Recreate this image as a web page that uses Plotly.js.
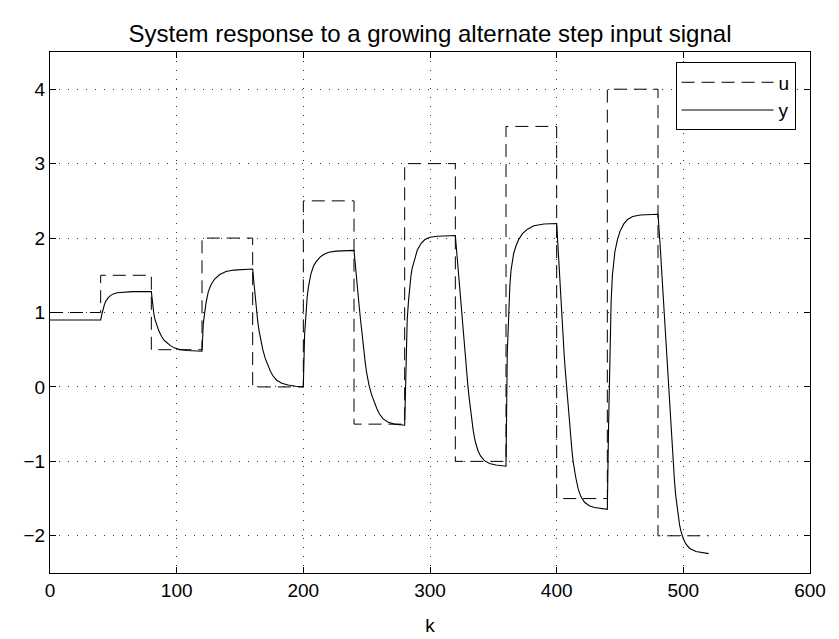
<!DOCTYPE html>
<html>
<head>
<meta charset="utf-8">
<script src="https://cdn.plot.ly/plotly-3.0.1.min.js"></script>
<style>html,body{margin:0;padding:0;background:#fff;}#chart{width:839px;height:639px;}</style>
</head>
<body>
<div id="chart"></div>
<script>
// Input signal u: step changes every 40 samples (hv steps)
const uK   = [0, 40, 80, 120, 160, 200, 240, 280, 320, 360, 400, 440, 480, 520];
const uVal = [1, 1.5, 0.5, 2, 0, 2.5, -0.5, 3, -1, 3.5, -1.5, 4, -2, -2];

// System output y
const yK = [
  0, 40,
  41, 42, 43, 44, 46, 48, 50, 53, 58, 65, 80,
  81, 82, 83, 84, 85, 86, 88, 90, 92, 95, 98, 102, 108, 120,
  121, 122, 123, 124, 125, 127, 130, 134, 139, 145, 150, 160,
  161, 162, 163, 164, 165, 166, 168, 170, 172, 174, 176, 179, 183, 188, 194, 200,
  201, 202, 203, 204, 205, 206, 208, 210, 213, 216, 220, 226, 240,
  241, 242, 243, 244, 245, 246, 247, 248, 249, 250, 251, 252, 254, 256, 258, 260, 263, 267, 272, 280,
  281, 282, 283, 284, 285, 286, 288, 290, 293, 296, 300, 306, 320,
  321, 322, 323, 324, 325, 326, 327, 328, 329, 330, 331, 332, 333, 334, 335, 336, 338, 340, 343, 347, 352, 360,
  361, 362, 363, 364, 365, 366, 368, 370, 373, 377, 382, 390, 400,
  401, 402, 403, 404, 405, 406, 407, 408, 409, 410, 411, 412, 413, 414, 415, 417, 419, 422, 426, 430, 440,
  441, 442, 443, 444, 445, 446, 448, 450, 453, 456, 460, 466, 480,
  481, 482, 483, 484, 485, 486, 487, 488, 489, 490, 491, 492, 493, 494, 495, 496, 497, 498, 500, 502, 505, 510, 515, 520
];
const yVal = [
  0.9, 0.9,
  0.98, 1.06, 1.11, 1.15, 1.20, 1.23, 1.25, 1.265, 1.275, 1.28, 1.28,
  1.10, 0.98, 0.90, 0.84, 0.79, 0.75, 0.68, 0.63, 0.60, 0.555, 0.525, 0.505, 0.49, 0.48,
  0.85, 1.0, 1.11, 1.20, 1.28, 1.37, 1.45, 1.51, 1.55, 1.57, 1.578, 1.585,
  1.40, 1.20, 1.03, 0.88, 0.76, 0.66, 0.50, 0.38, 0.29, 0.21, 0.15, 0.09, 0.05, 0.025, 0.01, 0.0,
  0.70, 1.0, 1.2, 1.34, 1.44, 1.52, 1.62, 1.68, 1.74, 1.78, 1.81, 1.825, 1.835,
  1.62, 1.44, 1.27, 1.10, 0.93, 0.76, 0.60, 0.45, 0.31, 0.19, 0.09, 0.01, -0.11, -0.21, -0.29, -0.36, -0.43, -0.475, -0.50, -0.515,
  0.35, 0.9, 1.15, 1.37, 1.50, 1.60, 1.74, 1.84, 1.93, 1.98, 2.01, 2.025, 2.035,
  1.82, 1.60, 1.38, 1.16, 0.95, 0.75, 0.56, 0.37, 0.18, 0.0, -0.16, -0.31, -0.45, -0.57, -0.67, -0.75, -0.86, -0.93, -0.99, -1.03, -1.05, -1.065,
  0.45, 1.0, 1.35, 1.57, 1.70, 1.79, 1.90, 1.98, 2.06, 2.12, 2.165, 2.19, 2.195,
  1.87, 1.53, 1.2, 0.9, 0.65, 0.41, 0.18, -0.04, -0.24, -0.45, -0.66, -0.84, -1.0, -1.11, -1.21, -1.37, -1.47, -1.55, -1.60, -1.62, -1.645,
  -0.5, 0.6, 1.15, 1.50, 1.70, 1.82, 1.98, 2.09, 2.19, 2.25, 2.29, 2.31, 2.32,
  2.1, 1.82, 1.53, 1.24, 0.95, 0.66, 0.37, 0.08, -0.21, -0.49, -0.77, -1.03, -1.26, -1.46, -1.62, -1.75, -1.85, -1.93, -2.04, -2.11, -2.17, -2.21, -2.23, -2.24
];

const titleText = 'System response to a growing alternate step input signal';
const xTicks = [0, 100, 200, 300, 400, 500, 600];
const yTicks = [-2, -1, 0, 1, 2, 3, 4];

const FONT = 'Liberation Sans, Arial, Helvetica, sans-serif';

const traces = [
  {x: uK, y: uVal, name: 'u', type: 'scatter', mode: 'lines',
   line: {color: '#000', width: 1, dash: '13px,7px', shape: 'hv'}},
  {x: yK, y: yVal, name: 'y', type: 'scatter', mode: 'lines',
   line: {color: '#000', width: 1.1}}
];

const axisCommon = {
  showline: true, linecolor: '#000', linewidth: 1, mirror: 'ticks',
  ticks: 'inside', ticklen: 6, tickcolor: '#000', tickwidth: 1,
  showgrid: true, gridcolor: '#333', gridwidth: 1, griddash: '1px,8px',
  zeroline: false, tickfont: {family: FONT, size: 19, color: '#000'},
  fixedrange: true
};

const layout = {
  width: 839, height: 639,
  paper_bgcolor: '#fff', plot_bgcolor: '#fff',
  margin: {l: 50, r: 29, t: 52, b: 66},
  font: {family: FONT, color: '#000'},
  title: {text: titleText, font: {family: FONT, size: 24, color: '#000'},
          x: 0.5, xref: 'paper', y: 0.948, yref: 'container', yanchor: 'middle'},
  xaxis: Object.assign({}, axisCommon, {
    range: [0, 600], tickvals: xTicks, ticktext: xTicks.map(String),
    title: {text: 'k', font: {family: FONT, size: 19, color: '#000'}, standoff: 18}
  }),
  yaxis: Object.assign({}, axisCommon, {
    range: [-2.5, 4.5], tickvals: yTicks, ticktext: yTicks.map(v => v < 0 ? '\u2212' + Math.abs(v) : String(v))
  }),
  showlegend: true,
  legend: {x: 0.981, xanchor: 'right', y: 0.98, yanchor: 'top',
           bgcolor: '#fff', bordercolor: '#000', borderwidth: 1,
           font: {family: FONT, size: 19, color: '#000'},
           itemwidth: 92, tracegroupgap: 0}
};

Plotly.newPlot('chart', traces, layout, {staticPlot: true, displayModeBar: false});
</script>
</body>
</html>
